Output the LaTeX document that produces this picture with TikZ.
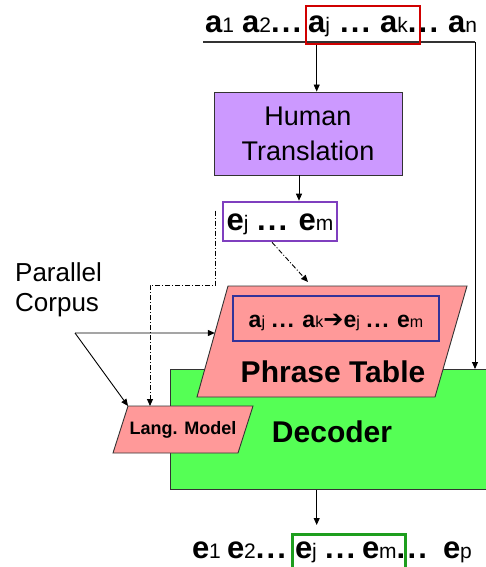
\documentclass[tikz,border=0pt]{standalone}
\usepackage{fontspec}
\setmainfont{Liberation Sans}
\newfontfamily\djv{DejaVu Sans}
\usetikzlibrary{arrows.meta,calc}
\definecolor{htfill}{HTML}{CC99FF}
\definecolor{edgegray}{HTML}{333333}
\definecolor{purpedge}{HTML}{7F3FBF}
\definecolor{redbox}{HTML}{D00000}
\definecolor{blueedge}{HTML}{333399}
\definecolor{greenedge}{HTML}{1E9E1E}
\definecolor{decfill}{HTML}{55FF55}
\definecolor{pinkfill}{HTML}{FF9999}
\newcommand\tok[2]{\textbf{#1}{\fontsize{21}{21}\selectfont #2}}
\newcommand\stok[2]{\textbf{#1}{\fontsize{16}{16}\selectfont #2}}
\newcommand\dd{\textbf{.\hspace{0.07em}.\hspace{0.07em}.}}
\begin{document}
\begin{tikzpicture}[x=1pt,y=-1pt,
  arr/.style={-{Triangle[length=7pt,width=6pt]}, line width=0.9pt, draw=black},
  dd/.style={dash pattern=on 5pt off 2pt on 1pt off 2pt, line width=0.9pt},
  seq/.style={inner sep=0pt, outer sep=0pt, font=\fontsize{31}{31}\selectfont},
  plainbox/.style={draw=edgegray, line width=0.9pt, inner sep=0pt},
  colbox/.style={line width=2.6pt, inner sep=0pt, fill=none},
  big/.style={font=\fontsize{30}{30}\selectfont\bfseries, inner sep=0pt}
]
\useasboundingbox (0,0) rectangle (485,567);

% Decoder
\node[plainbox, fill=decfill, minimum width=316pt, minimum height=120pt, anchor=north west] (dec) at (170,369) {};
\node[big] (declab) at (332,432) {Decoder};

% Phrase table parallelogram
\coordinate (ptTL) at (228,286);
\coordinate (ptTR) at (467,286);
\coordinate (ptBR) at (435,397);
\coordinate (ptBL) at (197,397);
\draw[draw=edgegray, line width=0.9pt, fill=pinkfill] (ptTL) -- (ptTR) -- (ptBR) -- (ptBL) -- cycle;
\coordinate (ptL) at ($(ptTL)!0.4234!(ptBL)$);
\node[big] (ptlab) at (333,372) {Phrase Table};
\node[colbox, draw=blueedge, minimum width=206pt, minimum height=45pt] (inner) at (336,318.5) {};
\node[seq, anchor=base, font=\fontsize{23}{23}\selectfont] (innertext) at (336,327)
  {\stok{a}{j} \dd{} \stok{a}{k}{\djv\fontsize{24}{24}\selectfont\bfseries ➔}\stok{e}{j} \dd{} \stok{e}{m}};

% Lang model parallelogram
\coordinate (lmTL) at (128,406);
\coordinate (lmTR) at (253,406);
\coordinate (lmBR) at (238,453);
\coordinate (lmBL) at (113,453);
\draw[draw=edgegray, line width=0.9pt, fill=pinkfill] (lmTL) -- (lmTR) -- (lmBR) -- (lmBL) -- cycle;
\node[inner sep=0pt, font=\fontsize{18}{18}\selectfont\bfseries] (lmlab) at (183,430) {Lang. Model};
\coordinate (lmIn) at (150,406);

% Human translation
\node[plainbox, fill=htfill, minimum width=188pt, minimum height=83pt] (ht) at (308,133.5) {};
\node[align=center, font=\fontsize{27}{35}\selectfont, inner sep=0pt] (htlab) at (308,134) {Human\\Translation};

% ej ... em box
\node[colbox, draw=purpedge, minimum width=114pt, minimum height=39pt] (ejbox) at (280,221.5) {};
\node[seq, anchor=base] (ejtext) at (280,230) {\tok{e}{j} \dd{} \tok{e}{m}};

% Top sequence
\node[seq, anchor=base west] (a1) at (205,33) {\tok{a}{1}};
\node[seq, anchor=base west] (a2) at (242,33) {\tok{a}{2}\dd};
\node[seq, anchor=base west] (aj) at (308,33) {\tok{a}{j}};
\node[seq, anchor=base west] (ad) at (340,33) {\dd};
\node[seq, anchor=base west] (ak) at (380,33) {\tok{a}{k}\dd};
\node[seq, anchor=base west] (an) at (448,33) {\tok{a}{n}};
\coordinate (ulL) at (203,42);
\coordinate (ulR) at (475,42);
\draw[line width=1.2pt, draw=edgegray] (ulL) -- (ulR);
\node[colbox, draw=redbox, minimum width=114pt, minimum height=38pt] (red) at (363,25) {};

% Bottom sequence
\node[seq, anchor=base west] (e1) at (192,558) {\tok{e}{1}};
\node[seq, anchor=base west] (e2) at (227,558) {\tok{e}{2}\dd};
\node[seq, anchor=base west] (ej) at (295,558) {\tok{e}{j}};
\node[seq, anchor=base west] (ed) at (325,558) {\dd};
\node[seq, anchor=base west] (em) at (362,558) {\tok{e}{m}\dd};
\node[seq, anchor=base west] (ep) at (443,558) {\tok{e}{p}};
\node[colbox, draw=greenedge, minimum width=113pt, minimum height=50pt, anchor=north west] (green) at (291,533) {};

% Parallel corpus
\node[align=left, anchor=north west, inner sep=0pt, font=\fontsize{26}{30}\selectfont] (pc) at (15,262) {Parallel\\Corpus};
\coordinate (pcJ) at (75,333);

% Connectors
\draw[arr] ([xshift=12pt]red.south west) -- ([xshift=12pt]red.south west |- ht.north);
\draw[arr] (ulR) -- (ulR |- dec.north);
\draw[arr] ([xshift=-9pt]ht.south) -- ([xshift=-9pt]ht.south |- ejbox.north);
\draw[arr, dd] ([xshift=-8pt]ejbox.south) -- (308,282);
\coordinate (ddS) at ([xshift=-6pt,yshift=-10pt]ejbox.north west);
\draw[arr, dd] (ddS) -- (ddS |- 0,285) -- (lmIn |- 0,285) -- (lmIn);
\draw[arr] (pcJ) -- (ptL);
\draw[arr] (pcJ) -- (lmTL);
\draw[arr] (dec.south -| red.south west) ++(12pt,0) coordinate (dout) -- (dout |- 0,525);
\end{tikzpicture}
\end{document}
